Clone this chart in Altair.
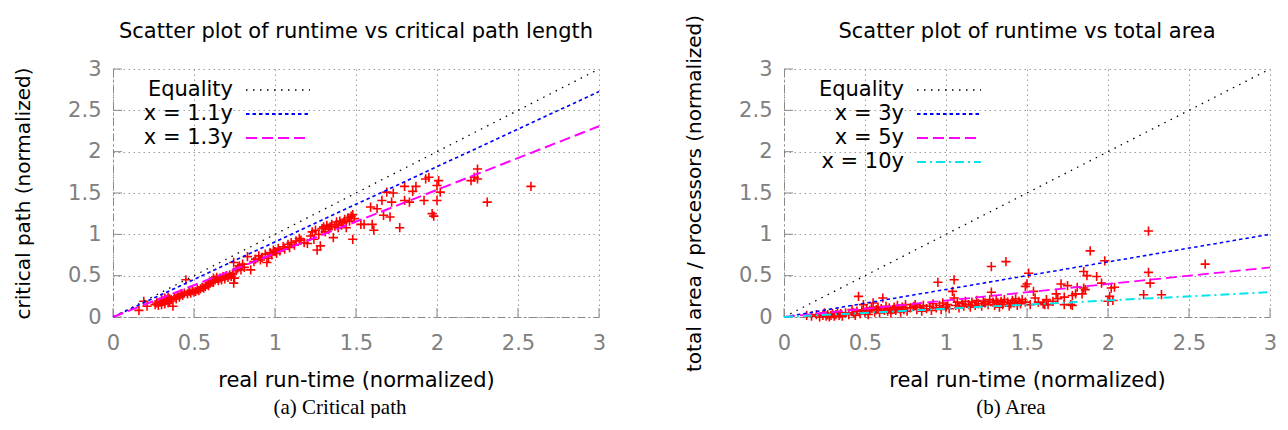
import altair as alt
import pandas as pd

# ---- panel (a): real run-time vs critical path (normalized)
run_a = [0.16,0.19,0.21,0.26,0.27,0.28,0.29,0.30,0.30,0.31,
         0.32,0.32,0.33,0.34,0.34,0.35,0.35,0.36,0.37,0.38,
         0.39,0.40,0.41,0.42,0.43,0.44,0.45,0.46,0.47,0.48,
         0.49,0.50,0.51,0.52,0.53,0.54,0.55,0.56,0.57,0.58,
         0.59,0.60,0.61,0.62,0.62,0.63,0.64,0.65,0.66,0.67,
         0.68,0.69,0.70,0.71,0.72,0.73,0.74,0.745,0.745,0.75,
         0.76,0.77,0.78,0.79,0.80,0.81,0.83,0.85,0.87,0.88,
         0.90,0.91,0.92,0.94,0.95,0.96,0.97,0.98,0.99,1.00,
         1.01,1.02,1.03,1.05,1.06,1.08,1.09,1.10,1.12,1.13,
         1.15,1.16,1.18,1.20,1.22,1.23,1.24,1.25,1.26,1.27,
         1.28,1.29,1.30,1.31,1.32,1.33,1.34,1.35,1.36,1.37,
         1.38,1.39,1.40,1.41,1.42,1.43,1.44,1.45,1.46,1.47,
         1.48,1.48,1.49,1.53,1.55,1.59,1.60,1.61,1.63,1.66,
         1.67,1.69,1.71,1.72,1.73,1.77,1.80,1.80,1.83,1.85,
         1.87,1.92,1.93,1.95,1.97,1.98,2.00,2.01,2.00,2.02,
         2.21,2.23,2.25,2.25,2.31,2.58]
crit_a = [0.08,0.19,0.13,0.15,0.17,0.14,0.18,0.21,0.15,0.19,
          0.23,0.16,0.20,0.24,0.17,0.22,0.19,0.21,0.13,0.24,
          0.22,0.26,0.24,0.28,0.26,0.29,0.45,0.28,0.31,0.29,
          0.32,0.30,0.31,0.33,0.32,0.34,0.36,0.35,0.37,0.39,
          0.38,0.41,0.44,0.47,0.42,0.45,0.48,0.44,0.47,0.45,
          0.49,0.46,0.50,0.48,0.51,0.49,0.53,0.41,0.66,0.47,
          0.56,0.59,0.62,0.57,0.64,0.60,0.73,0.57,0.67,0.70,
          0.74,0.69,0.72,0.76,0.66,0.71,0.78,0.75,0.81,0.79,
          0.77,0.83,0.80,0.85,0.82,0.88,0.84,0.90,0.87,0.92,
          0.95,0.93,0.90,0.89,0.98,1.03,0.94,1.05,0.81,1.00,
          0.86,1.07,1.09,1.03,1.11,1.06,1.09,1.12,0.96,1.10,
          1.15,1.08,1.16,1.11,1.14,1.18,1.08,1.20,1.16,1.22,
          0.94,1.24,1.19,1.12,1.12,1.33,1.12,1.05,1.31,1.41,
          1.23,1.51,1.21,1.39,1.50,1.08,1.41,1.58,1.39,1.52,
          1.58,1.41,1.67,1.69,1.25,1.22,1.59,1.65,1.41,1.51,
          1.65,1.69,1.79,1.67,1.39,1.58]

# ---- panel (b): real run-time vs total area / processors (normalized)
run_b = [0.14,0.17,0.20,0.22,0.24,0.25,0.26,0.27,0.28,0.29,
         0.30,0.31,0.32,0.33,0.34,0.35,0.36,0.38,0.40,0.42,
         0.43,0.44,0.45,0.46,0.47,0.48,0.49,0.50,0.51,0.52,
         0.53,0.54,0.55,0.56,0.57,0.58,0.59,0.60,0.61,0.62,
         0.63,0.64,0.65,0.66,0.67,0.68,0.69,0.70,0.71,0.72,
         0.73,0.74,0.75,0.76,0.78,0.80,0.81,0.82,0.84,0.85,
         0.86,0.88,0.90,0.91,0.92,0.94,0.95,0.96,0.97,0.98,
         1.00,1.01,1.02,1.04,1.05,1.05,1.06,1.07,1.08,1.10,
         1.11,1.12,1.14,1.15,1.16,1.18,1.19,1.20,1.22,1.23,
         1.24,1.26,1.27,1.28,1.28,1.29,1.30,1.31,1.32,1.33,
         1.34,1.35,1.36,1.37,1.38,1.39,1.40,1.41,1.42,1.43,
         1.44,1.45,1.46,1.47,1.49,1.50,1.51,1.49,1.52,1.54,
         1.55,1.57,1.60,1.61,1.62,1.63,1.66,1.68,1.69,1.71,
         1.73,1.73,1.75,1.77,1.78,1.78,1.80,1.81,1.84,1.85,
         1.85,1.86,1.87,1.89,1.93,1.96,1.98,2.00,2.01,2.02,
         2.03,2.04,2.22,2.25,2.25,2.26,2.33,2.60]
area_b = [0.02,0.01,0.03,0.00,0.02,0.05,0.01,0.03,0.00,0.02,
          0.04,0.01,0.03,0.06,0.02,0.04,0.01,0.05,0.03,0.09,
          0.05,0.02,0.07,0.25,0.04,0.08,0.15,0.06,0.10,0.03,
          0.08,0.11,0.17,0.06,0.09,0.12,0.05,0.10,0.23,0.08,
          0.13,0.07,0.11,0.05,0.09,0.12,0.08,0.14,0.10,0.06,
          0.12,0.09,0.15,0.07,0.11,0.13,0.15,0.09,0.12,0.07,
          0.14,0.10,0.13,0.08,0.16,0.11,0.42,0.14,0.09,0.17,
          0.12,0.15,0.10,0.31,0.45,0.23,0.14,0.18,0.11,0.16,
          0.13,0.19,0.15,0.12,0.18,0.14,0.20,0.16,0.13,0.19,
          0.17,0.15,0.21,0.61,0.30,0.18,0.14,0.20,0.17,0.12,
          0.19,0.15,0.21,0.67,0.18,0.13,0.16,0.20,0.17,0.22,
          0.14,0.19,0.16,0.21,0.37,0.40,0.53,0.18,0.15,0.31,
          0.23,0.18,0.16,0.15,0.21,0.15,0.19,0.28,0.22,0.40,
          0.24,0.15,0.38,0.15,0.26,0.14,0.28,0.36,0.28,0.55,
          0.35,0.33,0.50,0.80,0.49,0.41,0.68,0.19,0.25,0.35,
          0.20,0.36,0.27,1.04,0.54,0.41,0.27,0.64]

# reference lines  x = k*y  ->  y = x/k
ref_x = [0, 3]
labels_a = ["Equality", "x = 1.1y", "x = 1.3y"]
ratios_a = [1.0, 1.1, 1.3]
labels_b = ["Equality", "x = 3y", "x = 5y", "x = 10y"]
ratios_b = [1.0, 3.0, 5.0, 10.0]
tick_vals = [0, 0.5, 1, 1.5, 2, 2.5, 3]

line_colors = ["#000000", "#0000ff", "#ff00ff", "#00e5ee"]
line_dashes = [[1.5, 5.5], [3.5, 3], [11, 5], [9, 4, 2, 4]]
line_widths = [1.3, 2.0, 2.0, 2.0]

W, H = 486, 248
FONT = "DejaVu Sans"
FS = 21
YFS = 20
PLUS = "M-1,0H1M0,-1V1"
AXIS_GREY = "#8a8a8a"


def panel(xs, ys, labels, ratios, title, ytitle, caption):
    n = len(labels)
    xscale = alt.Scale(domain=[0, 3], nice=False, zero=False)
    yscale = alt.Scale(domain=[0, 3], nice=False, zero=False)
    common = dict(values=tick_vals, format="~g", grid=True, gridDash=[1.5, 3.5],
                  gridColor="#9a9a9a", gridWidth=1, domainColor=AXIS_GREY,
                  domainDash=[8, 3, 2, 3], domainWidth=1, ticks=False,
                  labelColor="#808080", labelFont=FONT, labelFontSize=FS,
                  labelFlush=False, titleFont=FONT,
                  titleFontWeight="normal", titleColor="#000000")
    xaxis = alt.Axis(title="real run-time (normalized)", titlePadding=16,
                     titleFontSize=FS, labelPadding=15, **common)
    yaxis = alt.Axis(title=ytitle, titlePadding=34, titleFontSize=YFS,
                     labelPadding=12, **common)

    pts = pd.DataFrame({"x": xs, "y": ys})
    points = alt.Chart(pts).mark_point(shape=PLUS, size=85, strokeWidth=1.6,
                                       color="#ff0000", filled=False, opacity=1).encode(
        x=alt.X("x:Q", scale=xscale, axis=xaxis),
        y=alt.Y("y:Q", scale=yscale, axis=yaxis),
    )

    rows = []
    for lab, k in zip(labels, ratios):
        for xv in ref_x:
            rows.append({"x": xv, "y": xv / k, "label": lab})
    lines_df = pd.DataFrame(rows)
    lines = alt.Chart(lines_df).mark_line().encode(
        x=alt.X("x:Q", scale=xscale, axis=xaxis),
        y=alt.Y("y:Q", scale=yscale, axis=yaxis),
        color=alt.Color("label:N", scale=alt.Scale(domain=labels, range=line_colors[:n]), legend=None),
        strokeDash=alt.StrokeDash("label:N", scale=alt.Scale(domain=labels, range=line_dashes[:n]), legend=None),
        strokeWidth=alt.StrokeWidth("label:N", scale=alt.Scale(domain=labels, range=line_widths[:n]), legend=None),
    )

    # inward tick marks on the left and bottom borders (gnuplot style)
    tk = pd.DataFrame({"v": tick_vals})
    yticks = alt.Chart(tk).mark_rule(color=AXIS_GREY, strokeWidth=1).encode(
        y=alt.Y("v:Q", scale=yscale, axis=yaxis), x=alt.value(0), x2=alt.value(9))
    xticks = alt.Chart(tk).mark_rule(color=AXIS_GREY, strokeWidth=1).encode(
        x=alt.X("v:Q", scale=xscale, axis=xaxis), y=alt.value(H), y2=alt.value(H - 9))

    layers = [yticks, xticks, points, lines]
    for i, lab in enumerate(labels):
        ld = pd.DataFrame({"label": [lab]})
        ypos = 21 + 24 * i
        layers.append(alt.Chart(ld).mark_text(align="right", baseline="middle", font=FONT,
                                              fontSize=FS, color="#000000").encode(
            text="label:N", x=alt.value(120), y=alt.value(ypos)))
        layers.append(alt.Chart(ld).mark_rule(color=line_colors[i], strokeDash=line_dashes[i],
                                              strokeWidth=line_widths[i]).encode(
            x=alt.value(133), x2=alt.value(197), y=alt.value(ypos)))

    td = pd.DataFrame({"t": [title]})
    layers.append(alt.Chart(td).mark_text(align="center", baseline="middle", font=FONT,
                                          fontSize=FS, color="#000000").encode(
        text="t:N", x=alt.value(W / 2), y=alt.value(-37)))
    cd = pd.DataFrame({"t": [caption]})
    layers.append(alt.Chart(cd).mark_text(align="center", baseline="middle",
                                          font="Liberation Serif", fontSize=21,
                                          color="#000000").encode(
        text="t:N", x=alt.value(W / 2 - 16), y=alt.value(339)))
    return alt.layer(*layers).properties(width=W, height=H)


pa = panel(run_a, crit_a, labels_a, ratios_a,
           "Scatter plot of runtime vs critical path length",
           "critical path (normalized)", "(a) Critical path")
pb = panel(run_b, area_b, labels_b, ratios_b,
           "Scatter plot of runtime vs total area",
           "total area / processors (normalized)", "(b) Area")

chart = alt.hconcat(pa, pb, spacing=78).resolve_scale(
    color="independent", strokeDash="independent", strokeWidth="independent"
).properties(
    padding={"left": 5, "top": 6, "right": 3, "bottom": 0}
).configure_view(stroke=None)

chart.save("out.html", embed_options={"renderer": "svg", "actions": False})
